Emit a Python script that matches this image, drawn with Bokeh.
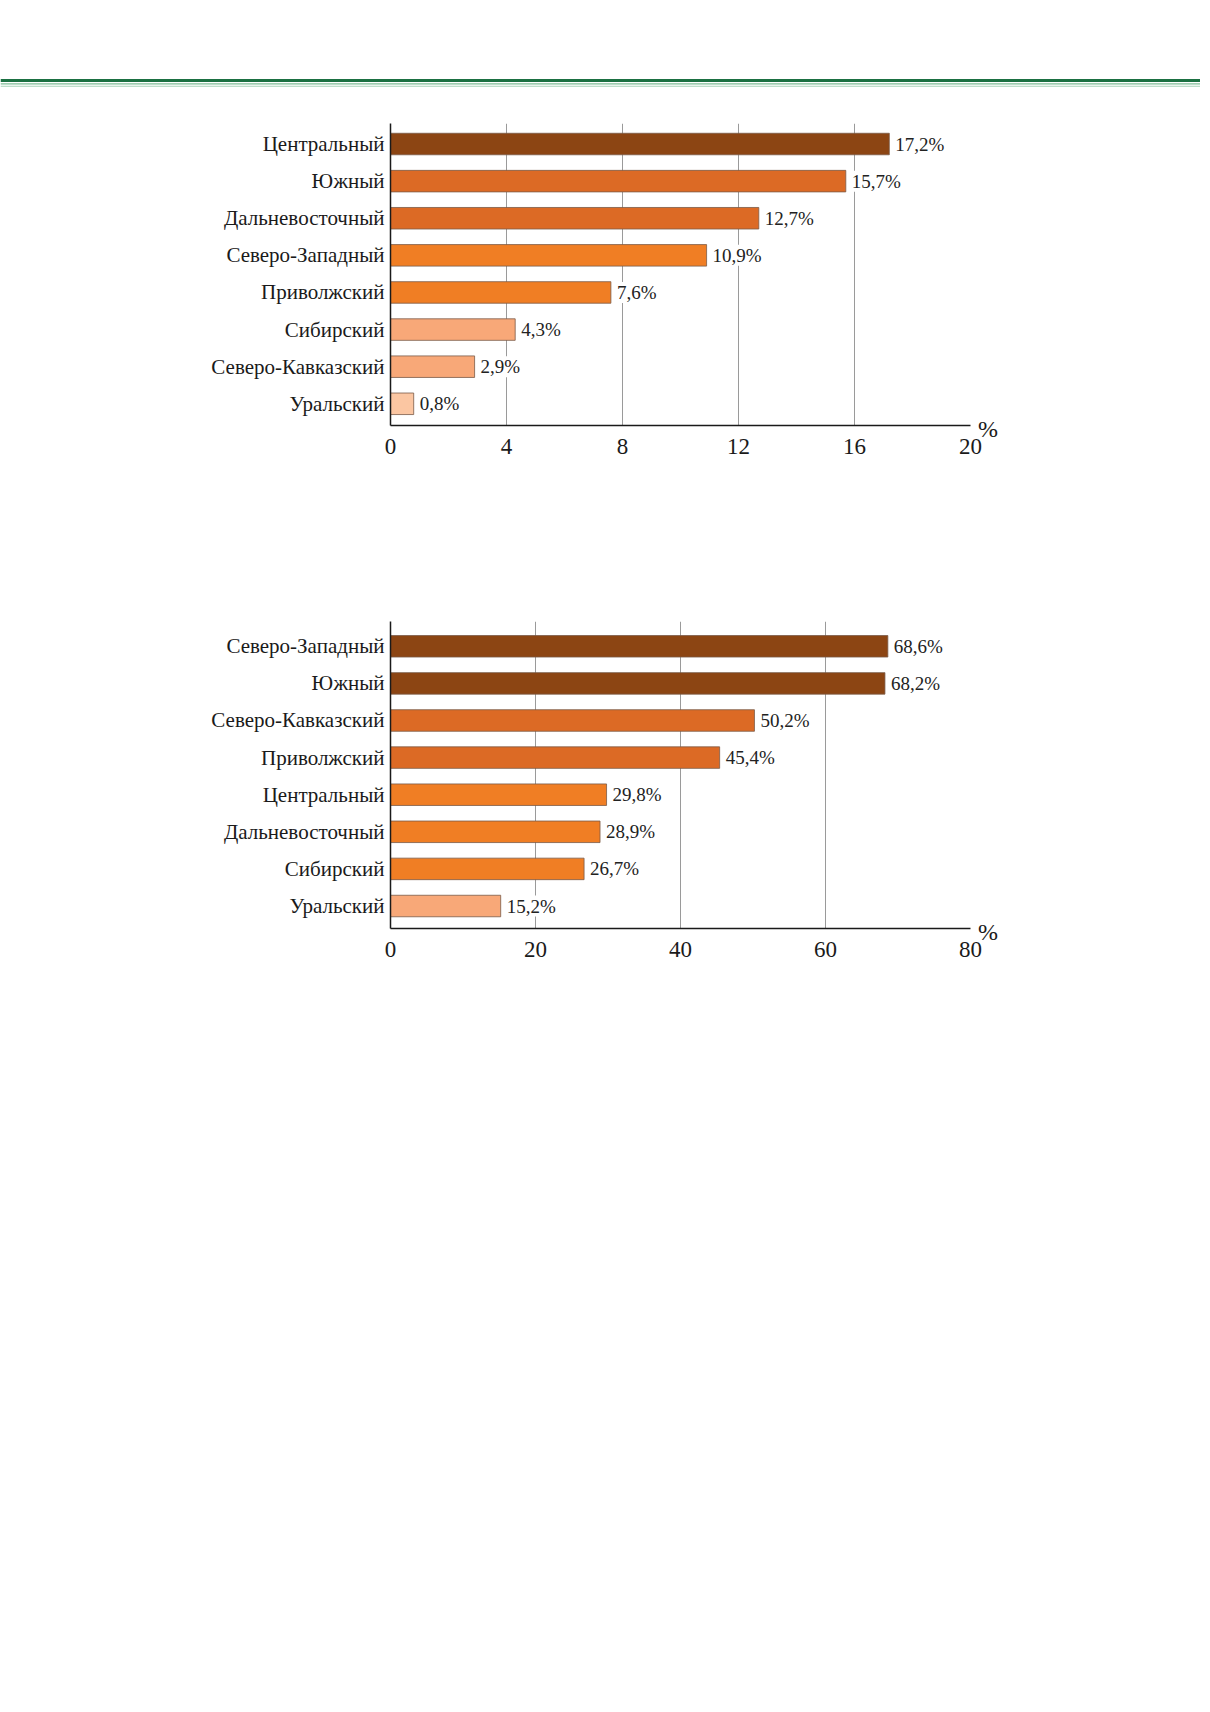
from bokeh.plotting import figure
from bokeh.models import (Range1d, FixedTicker, ColumnDataSource, LabelSet, Div)
from bokeh.embed import file_html
from bokeh.resources import INLINE

# ---------------- data ----------------
regions1 = ["Центральный", "Южный", "Дальневосточный", "Северо-Западный",
            "Приволжский", "Сибирский", "Северо-Кавказский", "Уральский"]
values1 = [17.2, 15.7, 12.7, 10.9, 7.6, 4.3, 2.9, 0.8]
labels1 = ["17,2%", "15,7%", "12,7%", "10,9%", "7,6%", "4,3%", "2,9%", "0,8%"]
ticks1 = [0, 4, 8, 12, 16, 20]

regions2 = ["Северо-Западный", "Южный", "Северо-Кавказский", "Приволжский",
            "Центральный", "Дальневосточный", "Сибирский", "Уральский"]
values2 = [68.6, 68.2, 50.2, 45.4, 29.8, 28.9, 26.7, 15.2]
labels2 = ["68,6%", "68,2%", "50,2%", "45,4%", "29,8%", "28,9%", "26,7%", "15,2%"]
ticks2 = [0, 20, 40, 60, 80]

unit_label = "%"

# colour classes (by shade)
C_DARK = "#8c4513"
C_MED = "#dc6a25"
C_ORNG = "#f07e24"
C_LIGHT = "#f8a878"
C_PALE = "#fbc6a2"
colors1 = [C_DARK, C_MED, C_MED, C_ORNG, C_ORNG, C_LIGHT, C_LIGHT, C_PALE]
colors2 = [C_DARK, C_DARK, C_MED, C_MED, C_ORNG, C_ORNG, C_ORNG, C_LIGHT]

FONT = "Liberation Serif"
W = 1200


def bar_chart(regions, values, labels, colors, ticks, xmax, yr, top_border,
              frame_h, height):
    n = len(regions)
    ypos = list(range(n - 1, -1, -1))
    src = ColumnDataSource(dict(y=ypos, v=values, lab=labels, c=colors))
    p = figure(width=W, height=height, frame_width=580, frame_height=frame_h,
               x_range=Range1d(0, xmax), y_range=Range1d(*yr),
               output_backend="svg", toolbar_location=None,
               min_border_left=390, min_border_right=W - 390 - 580,
               min_border_top=top_border,
               min_border_bottom=height - top_border - frame_h)
    p.outline_line_color = None
    p.background_fill_color = "white"
    p.border_fill_color = "white"

    p.hbar(y="y", right="v", left=0, height=0.58, fill_color="c",
           line_color="#7a5a48", line_width=0.8, source=src)

    # value labels with white background (breaks the grid lines)
    ls = LabelSet(x="v", y="y", text="lab", source=src, x_offset=6,
                  text_font=FONT, text_font_size="19px", text_color="#222222",
                  text_baseline="middle", text_align="left",
                  background_fill_color="white", background_fill_alpha=1.0)
    try:
        ls.padding = 5
    except Exception:
        pass
    p.add_layout(ls)

    # x axis
    p.xaxis.ticker = FixedTicker(ticks=ticks)
    p.xaxis.axis_line_color = "#1a1a1a"
    p.xaxis.axis_line_width = 1.5
    p.xaxis.major_tick_line_color = None
    p.xaxis.minor_tick_line_color = None
    p.xaxis.major_label_text_font = FONT
    p.xaxis.major_label_text_font_size = "23px"
    p.xaxis.major_label_text_color = "#1a1a1a"
    p.xaxis.major_label_standoff = 7

    # y axis with region names
    p.yaxis.ticker = FixedTicker(ticks=ypos)
    p.yaxis.major_label_overrides = {y: r for y, r in zip(ypos, regions)}
    p.yaxis.axis_line_color = "#1a1a1a"
    p.yaxis.axis_line_width = 1.5
    p.yaxis.major_tick_line_color = None
    p.yaxis.major_tick_out = 0
    p.yaxis.minor_tick_line_color = None
    p.yaxis.minor_tick_out = 0
    p.yaxis.major_label_text_font = FONT
    p.yaxis.major_label_text_font_size = "21px"
    p.yaxis.major_label_text_color = "#1a1a1a"
    p.yaxis.major_label_standoff = 6

    p.xgrid.grid_line_color = "#9a9a9a"
    p.xgrid.grid_line_width = 1
    p.ygrid.grid_line_color = None
    return p


def unit_div(left, top):
    # the "%" sign placed just right of the x axis end
    return Div(text=unit_label, width=30, height=28,
               styles={"position": "absolute", "left": f"{left}px",
                       "top": f"{top}px", "font-family": FONT,
                       "font-size": "24px", "color": "#1a1a1a",
                       "line-height": "normal", "margin": "0"})


# header with green rules (page coordinates 0..98)
hdr = figure(width=W, height=98, x_range=Range1d(0, 1), y_range=Range1d(98, 0),
             output_backend="svg", toolbar_location=None,
             min_border=0, outline_line_color=None)
hdr.axis.visible = False
hdr.grid.grid_line_color = None
rule_top = [78.5, 82.8, 85.2]
rule_bot = [81.5, 84.0, 86.2]
rule_col = ["#1b7042", "#7dbb95", "#a9d3b8"]
hdr.quad(left=0, right=1, top=rule_top, bottom=rule_bot, color=rule_col,
         line_color=None)

p1 = bar_chart(regions1, values1, labels1, colors1, ticks1, 20,
               (-0.585, 7.553), 25, 302, 422)
p2 = bar_chart(regions2, values2, labels2, colors2, ticks2, 80,
               (-0.606, 7.668), 101, 307, 468)

u1 = unit_div(978, 416)
u2 = unit_div(978, 919)

open("out.html", "w").write(file_html([hdr, p1, p2, u1, u2], INLINE))
